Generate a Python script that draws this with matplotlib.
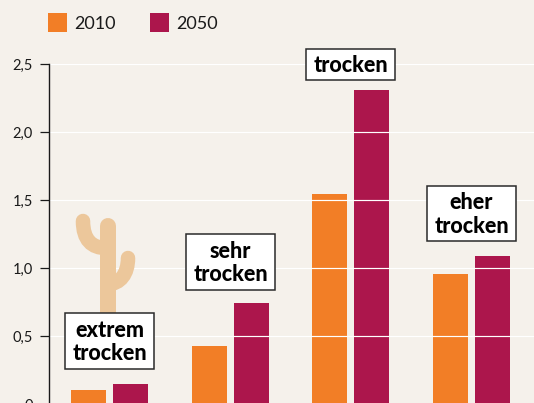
import matplotlib
matplotlib.use("Agg")
import matplotlib.pyplot as plt
from matplotlib.patches import PathPatch, Rectangle
from matplotlib.path import Path
from matplotlib.transforms import Affine2D

# Werte
years = ["2010", "2050"]
labels = ["extrem\ntrocken", "sehr\ntrocken", "trocken", "eher\ntrocken"]
values_2010 = [0.11, 0.426, 1.544, 0.956]
values_2050 = [0.147, 0.743, 2.31, 1.088]
y_ticks = [0, 0.5, 1.0, 1.5, 2.0, 2.5]
y_tick_labels = ["0", "0,5", "1,0", "1,5", "2,0", "2,5"]

BG = "#F5F1EB"
ORANGE = "#F27E26"
MAROON = "#AC164C"
CACTUS = "#ECC79B"
INK = "#1A1A1A"
FONT = "Lato"
W, H = 534, 403

plt.rcParams["font.family"] = [FONT, "DejaVu Sans"]

fig = plt.figure(figsize=(W / 100, H / 100), dpi=100, facecolor=BG)
# Achse laeuft unten etwas ueber den Bildrand hinaus, die 0 ist abgeschnitten
ax = fig.add_axes([49 / W, (H - 404.5) / H, (W - 49) / W, 340.5 / H])
ax.set_facecolor(BG)

# Pixelkoordinaten von oben links, fuer Legende, Kaktus und Kaesten
px = Affine2D().scale(1, -1).translate(0, H)

x = list(range(len(labels)))
ax.bar([i - 0.174 for i in x], values_2010, width=0.29, color=ORANGE, zorder=2)
ax.bar([i + 0.174 for i in x], values_2050, width=0.29, color=MAROON, zorder=2)

ax.set_xlim(-0.501, 3.518)
ax.set_ylim(0, 2.5)
ax.set_yticks(y_ticks, y_tick_labels)
ax.set_xticks([])
ax.tick_params(axis="y", length=6.5, width=0.9, color=INK, labelsize=10.5, labelcolor=INK, pad=5)
ax.grid(axis="y", color="white", lw=0.85, zorder=3)
ax.set_axisbelow(False)
for s in ["top", "right", "bottom"]:
    ax.spines[s].set_visible(False)
ax.spines["left"].set_linewidth(1.0)
ax.spines["left"].set_color(INK)
ax.spines["left"].set_zorder(4)

# Kaktus
cactus = [
    Path([(108, 226), (108, 316)]),
    Path([(83, 221), (83, 240), (92, 248), (106, 248)], [Path.MOVETO, Path.CURVE4, Path.CURVE4, Path.CURVE4]),
    Path([(128, 258), (128, 274), (120, 284), (108, 284)], [Path.MOVETO, Path.CURVE4, Path.CURVE4, Path.CURVE4]),
]
for p, lw in zip(cactus, [16, 14.5, 14.5]):
    fig.add_artist(PathPatch(p, transform=px, fc="none", ec=CACTUS, lw=lw * 0.72, capstyle="round", zorder=5))

# Beschriftungskaesten
boxes = [(65, 313, 89, 56), (186, 234, 89, 56), (306, 49, 89, 31), (427, 186, 89, 55)]
for (bx, by, bw, bh), label in zip(boxes, labels):
    fig.add_artist(Rectangle((bx, by), bw, bh, transform=px, fc="white", ec="#2A2A2A", lw=1.1, zorder=6))
    fig.text((bx + bw / 2) / W, 1 - (by + bh / 2 + 1) / H, label, ha="center", va="center", fontsize=15.5,
             fontweight=900, color="black", linespacing=1.12, zorder=7)

# Legende
for lx, tx, year, color in zip([48, 150], [74, 176], years, [ORANGE, MAROON]):
    fig.add_artist(Rectangle((lx, 13), 19, 19, transform=px, fc=color, ec="none"))
    fig.text(tx / W, 1 - 24 / H, year, ha="left", va="center", fontsize=13, color=INK)

fig.savefig("out.png", dpi=100, facecolor=BG)
